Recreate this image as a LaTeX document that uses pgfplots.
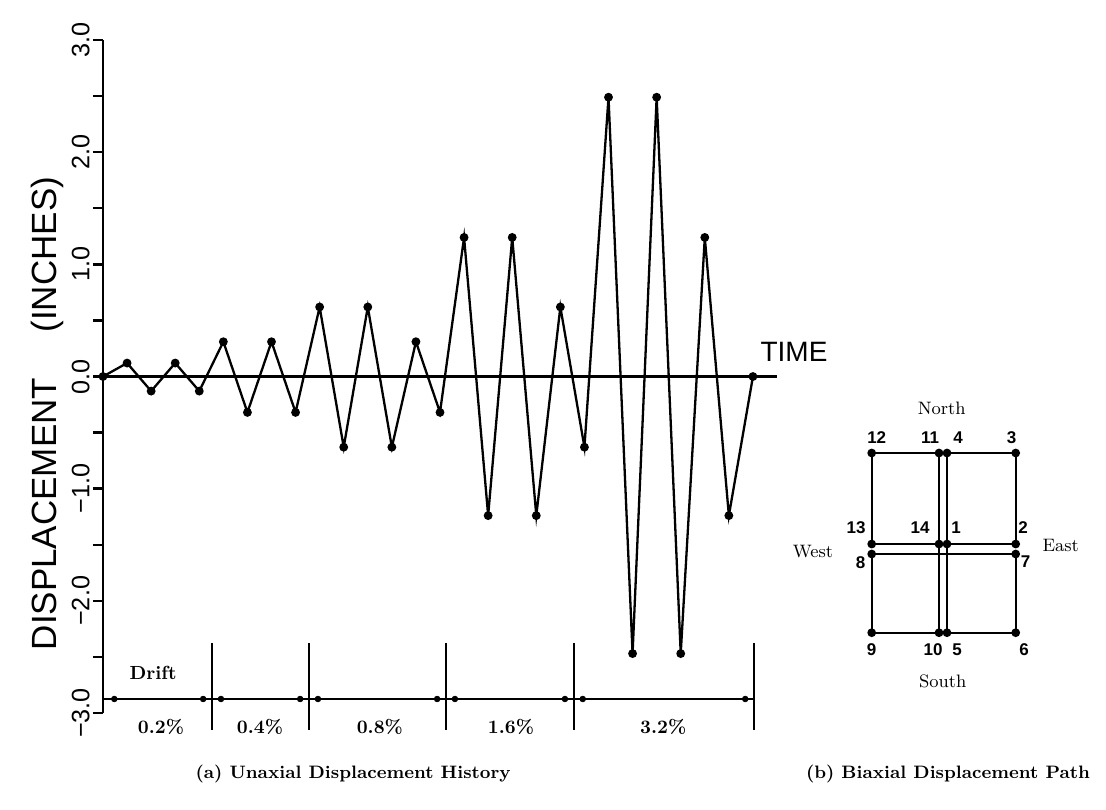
\documentclass[border=0pt]{standalone}
\usepackage{pgfplots}
\pgfplotsset{compat=1.18}
\usepackage{fontspec}
\newfontfamily\lsans{Liberation Sans}
\begin{document}
\begin{tikzpicture}
\path[use as bounding box] (0,0) rectangle (553pt,-404.5pt);
% ---------------- (a) uniaxial displacement history
\begin{axis}[
  at={(51.5pt,-356.5pt)}, anchor=south west,
  scale only axis, width=337pt, height=336.5pt,
  xmin=0, xmax=28, ymin=-3, ymax=3,
  axis x line=none, axis y line*=left,
  axis line style={-, line width=1.2pt, black},
  xtick=\empty,
  ytick={-3,-2,-1,0,1,2,3},
  minor ytick={-2.5,-1.5,-0.5,0.5,1.5,2.5},
  yticklabels={−3.0,−2.0,−1.0,0.0,1.0,2.0,3.0},
  tick align=outside, major tick length=5pt, minor tick length=5pt,
  every tick/.style={line width=1.2pt, black},
  yticklabel style={rotate=90, anchor=south, inner sep=1.5pt, font=\lsans\fontsize{12.6}{14}\selectfont},
  clip=false,
]
\addplot[black, line width=1.2pt, no marks] coordinates {(0,0) (28,0)};
\addplot[black, line width=1.15pt, mark=*, mark size=1.6pt] coordinates {
(0,0) (1,0.12) (2,-0.13) (3,0.12) (4,-0.13)
(5,0.31) (6,-0.32) (7,0.31) (8,-0.32)
(9,0.62) (10,-0.63) (11,0.62) (12,-0.63)
(13,0.31) (14,-0.32)
(15,1.24) (16,-1.24) (17,1.24) (18,-1.24)
(19,0.62) (20,-0.63)
(21,2.49) (22,-2.47) (23,2.49) (24,-2.47)
(25,1.24) (26,-1.24) (27,0)
};
% drift bands
\addplot[black, line width=1pt, no marks] coordinates {(0,-2.875) (27.05,-2.875)};
\addplot[black, line width=1.1pt, no marks] coordinates {(4.53,-2.376) (4.53,-3.15)};
\addplot[black, line width=1.1pt, no marks] coordinates {(8.56,-2.376) (8.56,-3.15)};
\addplot[black, line width=1.1pt, no marks] coordinates {(14.25,-2.376) (14.25,-3.15)};
\addplot[black, line width=1.1pt, no marks] coordinates {(19.56,-2.376) (19.56,-3.15)};
\addplot[black, line width=1.1pt, no marks] coordinates {(27.05,-2.376) (27.05,-3.15)};
\addplot[black, only marks, mark=*, mark size=1.4pt] coordinates {
(0.47,-2.875) (4.16,-2.875) (4.9,-2.875) (8.19,-2.875) (8.93,-2.875)
(13.88,-2.875) (14.62,-2.875) (19.19,-2.875) (19.93,-2.875) (26.68,-2.875)};
\node[anchor=base west, inner sep=0pt, font=\lsans\fontsize{14}{16}\selectfont] at (axis cs:27.3,0.13) {TIME};
\node[rotate=90, inner sep=0pt, font=\lsans\fontsize{17.5}{19}\selectfont] at (axis cs:-2.3,-0.33) {DISPLACEMENT\hspace{1.3em}(INCHES)};
\node[font=\bfseries\fontsize{9.5}{11}\selectfont] at (axis cs:2.08,-2.64) {Drift};
\node[font=\bfseries\fontsize{9.5}{11}\selectfont] at (axis cs:2.41,-3.12) {0.2\%};
\node[font=\bfseries\fontsize{9.5}{11}\selectfont] at (axis cs:6.52,-3.12) {0.4\%};
\node[font=\bfseries\fontsize{9.5}{11}\selectfont] at (axis cs:11.5,-3.12) {0.8\%};
\node[font=\bfseries\fontsize{9.5}{11}\selectfont] at (axis cs:16.95,-3.12) {1.6\%};
\node[font=\bfseries\fontsize{9.5}{11}\selectfont] at (axis cs:23.27,-3.12) {3.2\%};
\node[font=\bfseries\fontsize{9}{11}\selectfont] at (axis cs:10.39,-3.54) {(a) Unaxial Displacement History};
\end{axis}
% ---------------- (b) biaxial displacement path
\begin{axis}[
  at={(471.5pt,-274.5pt)}, anchor=center,
  scale only axis, width=100pt, height=120pt,
  xmin=-100, xmax=100, ymin=-120, ymax=120,
  hide axis, clip=false,
]
\addplot[black, line width=1.1pt, mark=*, mark size=1.6pt] coordinates {
(4,5) (72.7,5) (72.7,96) (4,96) (4,-83.7) (72.7,-83.7) (72.7,-5)
(-71.3,-5) (-71.3,-83.7) (-4,-83.7) (-4,96) (-71.3,96) (-71.3,5) (-4,5)};
\begin{scope}[every node/.style={font=\lsans\bfseries\fontsize{8.5}{10}\selectfont}]
\node at (axis cs:-66.3,111) {12};
\node at (axis cs:-13,111) {11};
\node at (axis cs:15,111) {4};
\node at (axis cs:68.7,111) {3};
\node at (axis cs:-87,21) {13};
\node at (axis cs:-23,21) {14};
\node at (axis cs:13,21) {1};
\node at (axis cs:80,21) {2};
\node at (axis cs:-82.3,-14) {8};
\node at (axis cs:82.7,-12.7) {7};
\node at (axis cs:-71.3,-101) {9};
\node at (axis cs:-10,-101) {10};
\node at (axis cs:14,-101) {5};
\node at (axis cs:81,-101) {6};
\end{scope}
\begin{scope}[every node/.style={font=\fontsize{9}{10}\selectfont}]
\node at (axis cs:-1.3,141) {North};
\node at (axis cs:-0.3,-132.7) {South};
\node at (axis cs:117.7,4) {East};
\node at (axis cs:-130,-3) {West};
\end{scope}
\node[font=\bfseries\fontsize{9}{11}\selectfont] at (axis cs:5,-225) {(b) Biaxial Displacement Path};
\end{axis}
\end{tikzpicture}
\end{document}
